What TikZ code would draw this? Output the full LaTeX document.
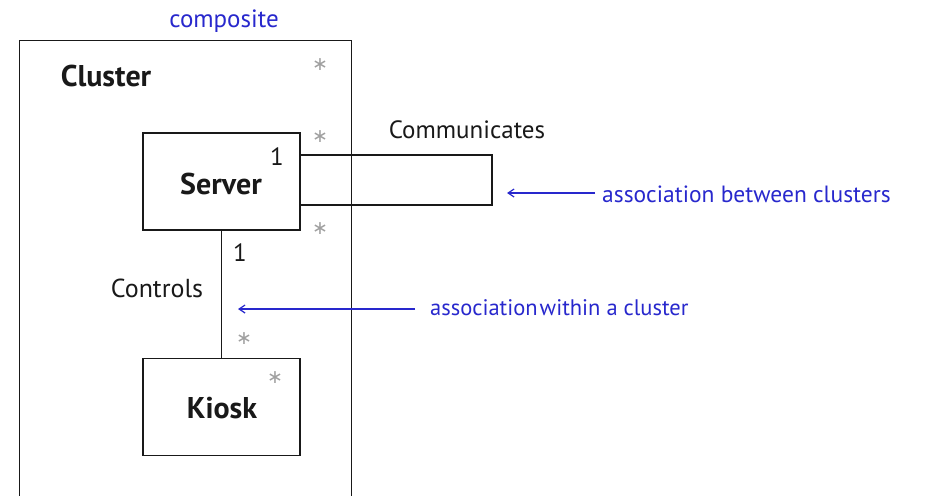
\documentclass[tikz,border=0pt]{standalone}
\usepackage{fontspec}
\setmainfont{PT Sans}
\newfontfamily\symfont{DejaVu Sans}
\usetikzlibrary{arrows.meta,calc}
\definecolor{noteblue}{RGB}{40,40,205}
\definecolor{stargray}{RGB}{160,160,160}
\definecolor{inkgray}{RGB}{25,25,25}
\tikzset{
  box/.style={draw=inkgray, line width=1.3pt, minimum width=157pt, minimum height=97pt, inner sep=0pt},
  frame/.style={draw=inkgray, line width=1.3pt, inner sep=0pt},
  conn/.style={draw=inkgray, line width=1.3pt},
  note/.style={text=noteblue, font=\fontsize{23.5}{26}\selectfont, inner sep=0pt},
  notearrow/.style={draw=noteblue, line width=1.2pt, -{Straight Barb[length=6pt,width=8pt]}},
  lbl/.style={text=inkgray, font=\fontsize{25}{28}\selectfont, inner sep=0pt},
  title/.style={text=inkgray, font=\bfseries\fontsize{30}{33}\selectfont, inner sep=0pt},
  star/.style={text=stargray, font=\symfont\fontsize{19}{21}\selectfont, inner sep=0pt},
}
\begin{document}
\begin{tikzpicture}[x=1pt,y=-1pt]
\useasboundingbox (0,0) rectangle (947,495);
\fill[white] (0,0) rectangle (947,495);
\begin{scope}
\clip (0,0) rectangle (947,495);
\node[frame, minimum width=332pt, minimum height=500pt, anchor=north west] (cluster) at (19,40) {};
\end{scope}
\node[note, font=\fontsize{25}{28}\selectfont] (composite) at (224,21) {composite};
\node[title] (clustertitle) at (106,76) {Cluster};
\node[star] (s1) at (320,65) {∗};

\node[box] (server) at (221.5,181.5) {};
\node[title] (servername) at (221,184) {Server};
\node[lbl] (one1) at (277,157) {1};
\node[star] (s2) at (320,137) {∗};
\node[star] (s3) at (320,229) {∗};

\coordinate (la) at ($(server.east)+(0,-26.5)$);
\coordinate (lb) at (492,155);
\coordinate (lc) at (492,205);
\coordinate (ld) at ($(server.east)+(0,23.5)$);
\draw[conn] (la) -- (lb) -- (lc) -- (ld);
\node[lbl] (comm) at (467,130) {Communicates};

\coordinate (a1s) at (595,193);
\coordinate (a1e) at (507,193);
\draw[notearrow] (a1s) -- (a1e);
\node[note, anchor=west] (n1) at (602,194) {association between clusters};

\node[box] (kiosk) at (221.5,407) {};
\node[title] (kioskname) at (222,408) {Kiosk};
\node[star] (s5) at (275,378) {∗};

\draw[conn] (server.south) -- (kiosk.north);
\node[lbl] (one2) at (240,253) {1};
\node[lbl, font=\fontsize{26}{29}\selectfont] (controls) at (157,288) {Controls};
\node[star] (s4) at (244,339) {∗};

\coordinate (a2s) at (415,309);
\coordinate (a2e) at (238,309);
\draw[notearrow] (a2s) -- (a2e);
\node[note, font=\fontsize{22.5}{25}\selectfont, anchor=west] (n2) at (430,308) {association\hspace{2pt}within a cluster};
\end{tikzpicture}
\end{document}
